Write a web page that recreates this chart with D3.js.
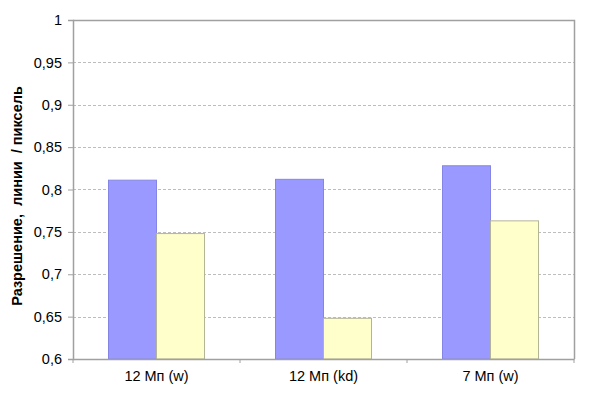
<!DOCTYPE html>
<html><head><meta charset="utf-8">
<script src="https://cdn.jsdelivr.net/npm/d3@7"></script>
<style>body{margin:0;background:#fff}svg{display:block}</style>
</head><body>
<svg id="c" width="600" height="400"></svg>
<script>
const categories = ["12 Мп (w)", "12 Мп (kd)", "7 Мп (w)"];
const series1 = [0.811, 0.812, 0.828];
const series2 = [0.748, 0.648, 0.763];
const yTicks = [0.6, 0.65, 0.7, 0.75, 0.8, 0.85, 0.9, 0.95, 1];
const yTitle = "Разрешение,  линии  / пиксель";

const svg = d3.select("#c");
const L = 73, R = 574, T = 20, B = 359;
const font = "'Liberation Sans', Arial, sans-serif";

const x = d3.scaleBand().domain(categories).range([L, R]);
const y = d3.scaleLinear().domain([0.6, 1]).range([B, T]);
const bw = 48;
const fmt = d => String(d).replace(".", ",");

// gridlines
svg.append("g").selectAll("line").data(yTicks.filter(d => d > 0.6 && d < 1)).join("line")
  .attr("x1", L).attr("x2", R).attr("y1", d => Math.round(y(d)) + 0.5).attr("y2", d => Math.round(y(d)) + 0.5)
  .attr("stroke", "#bdbdbd").attr("stroke-dasharray", "3,2").attr("stroke-width", 1);

// frame top/right
svg.append("path").attr("d", `M${L},${T+0.5}H${R+0.5}V${B}`).attr("fill", "none").attr("stroke", "#a0a0a0").attr("stroke-width", 1.5);

// bars
const g = svg.append("g");
categories.forEach((c, i) => {
  const cx = x(c) + x.bandwidth() / 2;
  g.append("rect").datum(series1[i])
    .attr("x", cx - bw).attr("width", bw)
    .attr("y", d => y(d)).attr("height", d => B - y(d))
    .attr("fill", "#9999ff").attr("stroke", "#8585e6").attr("stroke-width", 1);
  g.append("rect").datum(series2[i])
    .attr("x", cx).attr("width", bw)
    .attr("y", d => y(d)).attr("height", d => B - y(d))
    .attr("fill", "#ffffcc").attr("stroke", "#b4b496").attr("stroke-width", 1);
});

// y axis
const ya = svg.append("g").attr("transform", `translate(${L},0)`)
  .call(d3.axisLeft(y).tickValues(yTicks).tickSize(5).tickPadding(6).tickFormat(fmt));
ya.select(".domain").attr("stroke", "#a0a0a0").attr("stroke-width", 1.5);
ya.selectAll(".tick line").attr("stroke", "#a0a0a0");
ya.selectAll("text").attr("font-family", font).attr("font-size", 14.5).attr("fill", "#000");

// x axis
const xa = svg.append("g").attr("transform", `translate(0,${B})`)
  .call(d3.axisBottom(x).tickSize(0).tickPadding(12));
xa.select(".domain").attr("stroke", "#a0a0a0").attr("stroke-width", 1.5);
xa.selectAll("text").attr("font-family", font).attr("font-size", 14.5).attr("fill", "#000");
// boundary ticks
xa.append("g").selectAll("line").data(categories.map(c => x(c) + x.bandwidth()).concat([L])).join("line")
  .attr("x1", d => d).attr("x2", d => d).attr("y1", 0).attr("y2", 4).attr("stroke", "#a0a0a0");

// y title
svg.append("text").attr("transform", `translate(22,196) rotate(-90)`)
  .attr("text-anchor", "middle").attr("font-family", font).attr("font-size", 14.5).attr("font-weight", "bold")
  .attr("xml:space", "preserve").style("white-space", "pre").text(yTitle);
</script>
</body></html>
